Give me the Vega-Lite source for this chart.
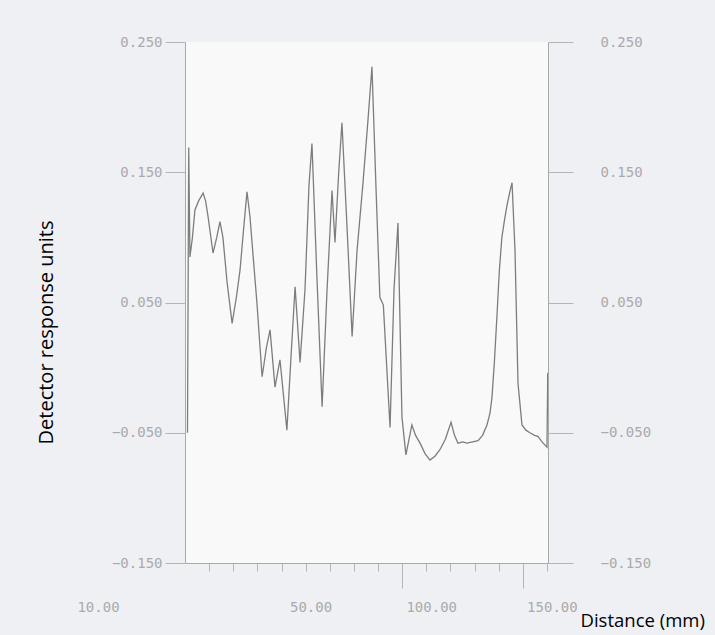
{
  "$schema": "https://vega.github.io/schema/vega-lite/v6.json",
  "autosize": {"type": "none"},
  "width": 363,
  "height": 521,
  "padding": {"left": 185, "top": 42, "right": 167, "bottom": 72},
  "background": "#eff0f4",
  "config": {
    "view": {"fill": "#f9f9fa", "stroke": null},
    "axis": {
      "grid": false,
      "domainColor": "#a9a9a9",
      "tickColor": "#b5b5b5",
      "labelColor": "#aaaaaa",
      "labelFont": "DejaVu Sans Mono",
      "labelFontSize": 14,
      "titleFont": "Open Sans",
      "titleFontSize": 20,
      "titleFontWeight": "normal",
      "titleColor": "#000000"
    }
  },
  "data": {
    "values": [
      {"distance": 11.03, "response": -0.05},
      {"distance": 11.54, "response": 0.169},
      {"distance": 12.05, "response": 0.085},
      {"distance": 13.08, "response": 0.1},
      {"distance": 14.11, "response": 0.121},
      {"distance": 15.65, "response": 0.128},
      {"distance": 17.5, "response": 0.134},
      {"distance": 18.53, "response": 0.128},
      {"distance": 19.55, "response": 0.116},
      {"distance": 21.61, "response": 0.088},
      {"distance": 23.15, "response": 0.1},
      {"distance": 24.48, "response": 0.112},
      {"distance": 25.72, "response": 0.1},
      {"distance": 27.46, "response": 0.065},
      {"distance": 29.52, "response": 0.034},
      {"distance": 31.37, "response": 0.055},
      {"distance": 32.81, "response": 0.075},
      {"distance": 34.45, "response": 0.11},
      {"distance": 35.68, "response": 0.135},
      {"distance": 36.92, "response": 0.116},
      {"distance": 38.25, "response": 0.085},
      {"distance": 39.79, "response": 0.05},
      {"distance": 41.95, "response": -0.007},
      {"distance": 43.7, "response": 0.015},
      {"distance": 45.24, "response": 0.029},
      {"distance": 47.29, "response": -0.015},
      {"distance": 49.35, "response": 0.006},
      {"distance": 52.22, "response": -0.048},
      {"distance": 53.97, "response": 0.01},
      {"distance": 55.61, "response": 0.062},
      {"distance": 57.67, "response": 0.004},
      {"distance": 59.72, "response": 0.06},
      {"distance": 61.37, "response": 0.14},
      {"distance": 62.6, "response": 0.172},
      {"distance": 64.65, "response": 0.07},
      {"distance": 66.81, "response": -0.03},
      {"distance": 68.86, "response": 0.06},
      {"distance": 70.92, "response": 0.136},
      {"distance": 72.14, "response": 0.096},
      {"distance": 73.69, "response": 0.15},
      {"distance": 75.03, "response": 0.188},
      {"distance": 77.08, "response": 0.11},
      {"distance": 79.24, "response": 0.024},
      {"distance": 81.29, "response": 0.09},
      {"distance": 83.76, "response": 0.142},
      {"distance": 85.81, "response": 0.19},
      {"distance": 87.46, "response": 0.231},
      {"distance": 89.1, "response": 0.14},
      {"distance": 90.74, "response": 0.054},
      {"distance": 92.18, "response": 0.048},
      {"distance": 94.96, "response": -0.046},
      {"distance": 96.6, "response": 0.06},
      {"distance": 98.24, "response": 0.111},
      {"distance": 99.89, "response": -0.038},
      {"distance": 101.53, "response": -0.067},
      {"distance": 104.0, "response": -0.044},
      {"distance": 105.54, "response": -0.052},
      {"distance": 107.39, "response": -0.058},
      {"distance": 109.44, "response": -0.066},
      {"distance": 111.5, "response": -0.071},
      {"distance": 113.55, "response": -0.068},
      {"distance": 115.61, "response": -0.063},
      {"distance": 117.87, "response": -0.055},
      {"distance": 120.23, "response": -0.042},
      {"distance": 121.67, "response": -0.052},
      {"distance": 123.11, "response": -0.058},
      {"distance": 125.06, "response": -0.057},
      {"distance": 126.81, "response": -0.058},
      {"distance": 129.17, "response": -0.057},
      {"distance": 131.43, "response": -0.056},
      {"distance": 133.28, "response": -0.052},
      {"distance": 135.12, "response": -0.044},
      {"distance": 136.36, "response": -0.035},
      {"distance": 137.18, "response": -0.023},
      {"distance": 138.21, "response": 0.005},
      {"distance": 139.23, "response": 0.039},
      {"distance": 140.26, "response": 0.075},
      {"distance": 141.29, "response": 0.1},
      {"distance": 142.52, "response": 0.115},
      {"distance": 143.45, "response": 0.125},
      {"distance": 144.58, "response": 0.135},
      {"distance": 145.5, "response": 0.142},
      {"distance": 146.73, "response": 0.09},
      {"distance": 147.97, "response": -0.012},
      {"distance": 149.61, "response": -0.044},
      {"distance": 151.25, "response": -0.048},
      {"distance": 152.9, "response": -0.05},
      {"distance": 154.85, "response": -0.052},
      {"distance": 156.29, "response": -0.053},
      {"distance": 157.93, "response": -0.057},
      {"distance": 159.98, "response": -0.061},
      {"distance": 160.29, "response": -0.004}
    ]
  },
  "layer": [
    {
      "mark": {"type": "line", "color": "#7d7d7d", "strokeWidth": 1.3, "clip": true},
      "encoding": {
        "x": {
          "field": "distance",
          "type": "quantitative",
          "scale": {"domain": [10, 160.4], "nice": false, "zero": false},
          "axis": {
            "orient": "bottom",
            "values": [10, 20, 30, 40, 50, 60, 70, 80, 90, 100, 110, 120, 130, 140, 150, 160],
            "labelExpr": "datum.value == 10 || datum.value == 50 || datum.value == 100 || datum.value == 150 ? format(datum.value, '.2f') : ''",
            "labelOverlap": false,
            "labelFlush": false,
            "labelBound": false,
            "tickSize": {"condition": {"test": "datum.value == 100 || datum.value == 150", "value": 25}, "value": 8},
            "labelPadding": {"condition": {"test": "datum.value == 100 || datum.value == 150", "value": 12}, "value": 29},
            "tickOpacity": {"condition": {"test": "datum.value == 10", "value": 0}, "value": 1},
            "labelOffset": {"condition": {"test": "datum.value == 10", "value": -87}, "value": 29},
            "title": "Distance (mm)",
            "titleFontSize": 18.5,
            "titleX": 395,
            "titleY": 57,
            "titleAlign": "left",
            "titleBaseline": "middle"
          }
        },
        "y": {
          "field": "response",
          "type": "quantitative",
          "scale": {"domain": [-0.15, 0.25], "nice": false, "zero": false},
          "axis": {
            "orient": "left",
            "values": [-0.15, -0.05, 0.05, 0.15, 0.25],
            "format": ".3f",
            "tickSize": 20,
            "labelPadding": 3,
            "title": "Detector response units",
            "titleAngle": -90,
            "titleX": -139,
            "titleY": 290,
            "titleAlign": "center",
            "titleBaseline": "middle"
          }
        }
      }
    },
    {
      "mark": {"type": "point", "opacity": 0},
      "encoding": {
        "y": {
          "field": "response",
          "type": "quantitative",
          "axis": {
            "orient": "right",
            "values": [-0.15, -0.05, 0.05, 0.15, 0.25],
            "format": ".3f",
            "tickSize": 25,
            "labelPadding": 27,
            "title": null
          }
        }
      }
    }
  ],
  "resolve": {"axis": {"y": "independent"}}
}
